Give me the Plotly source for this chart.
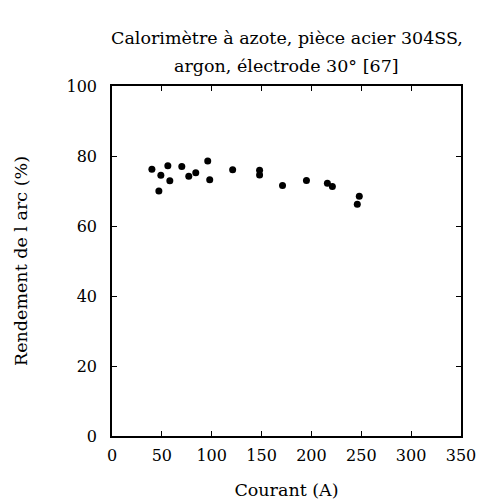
import plotly.graph_objects as go

courant = [40, 49, 47, 56, 58, 70, 77, 84, 96, 98, 121, 148, 148, 171, 195, 216, 221, 248, 246]
rendement = [76.2, 74.5, 70.0, 77.2, 72.9, 77.0, 74.2, 75.2, 78.6, 73.2, 76.1, 75.9, 74.6, 71.6, 73.0, 72.2, 71.3, 68.5, 66.2]

x_ticks = [0, 50, 100, 150, 200, 250, 300, 350]
y_ticks = [0, 20, 40, 60, 80, 100]
title_lines = ["Calorimètre à azote, pièce acier 304SS,", "argon, électrode 30° [67]"]

font_family = "DejaVu Serif"
fs = 16
fs_title = 17.5

fig = go.Figure()
fig.add_trace(go.Scatter(
    x=courant, y=rendement, mode="markers",
    marker=dict(color="black", size=7),
    showlegend=False,
))

axis_common = dict(
    showline=True, linecolor="black", linewidth=1.5, mirror="ticks",
    ticks="inside", ticklen=5, tickwidth=1, tickcolor="black",
    showgrid=False, zeroline=False, automargin=False,
    tickfont=dict(family=font_family, size=fs, color="black"),
)

fig.update_layout(
    width=482, height=501,
    margin=dict(l=112, r=21, t=86, b=65),
    paper_bgcolor="white", plot_bgcolor="white",
    font=dict(family=font_family, size=fs, color="black"),
    xaxis=dict(
        range=[0, 350], tickvals=x_ticks,
        title=dict(text="Courant (A)", standoff=20,
                   font=dict(family=font_family, size=fs_title)),
        ticklabelstandoff=4,
        **axis_common,
    ),
    yaxis=dict(
        range=[0, 100], tickvals=y_ticks,
        title=dict(text="Rendement de l arc (%)", standoff=34,
                   font=dict(family=font_family, size=fs_title)),
        ticklabelstandoff=10,
        **axis_common,
    ),
)

for line, ypos in zip(title_lines, [1 + 48 / 350, 1 + 20 / 350]):
    fig.add_annotation(
        text=line, x=0.5, y=ypos, xref="paper", yref="paper",
        xanchor="center", yanchor="middle", showarrow=False,
        font=dict(family=font_family, size=fs_title, color="black"),
    )

fig.write_html("out.html")
